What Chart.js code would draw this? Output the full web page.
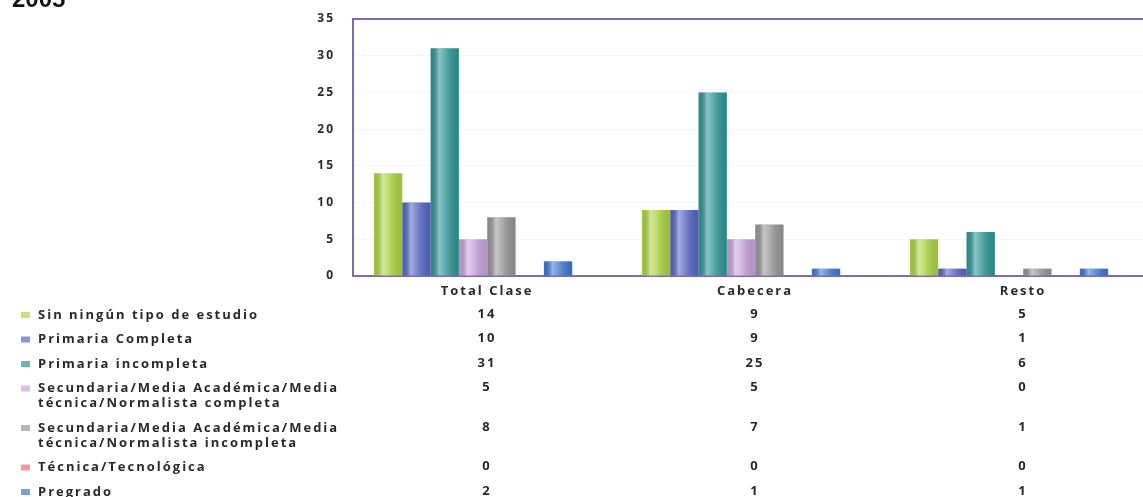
<!DOCTYPE html>
<html>
<head>
<meta charset="utf-8">
<script src="https://cdn.jsdelivr.net/npm/chart.js@4/dist/chart.umd.min.js"></script>
<style>
  html, body { margin: 0; padding: 0; background: #fff; overflow: hidden; }
  #wrap { position: relative; width: 1143px; height: 497px; }
</style>
</head>
<body>
<div id="wrap"><canvas id="c" width="1143" height="497"></canvas></div>
<script>
// ---- data ----
const chartTitle = '2005';
const categories = ['Total Clase', 'Cabecera', 'Resto'];
const seriesNames = [
  ['Sin ningún tipo de estudio'],
  ['Primaria Completa'],
  ['Primaria incompleta'],
  ['Secundaria/Media Académica/Media', 'técnica/Normalista completa'],
  ['Secundaria/Media Académica/Media', 'técnica/Normalista incompleta'],
  ['Técnica/Tecnológica'],
  ['Pregrado']
];
const sinEstudio           = [14, 9, 5];
const primariaCompleta     = [10, 9, 1];
const primariaIncompleta   = [31, 25, 6];
const secundariaCompleta   = [5, 5, 0];
const secundariaIncompleta = [8, 7, 1];
const tecnica              = [0, 0, 0];
const pregrado             = [2, 1, 1];
const yTickValues = [0, 5, 10, 15, 20, 25, 30, 35];

// ---- styling ----
const seriesValues = [sinEstudio, primariaCompleta, primariaIncompleta,
  secundariaCompleta, secundariaIncompleta, tecnica, pregrado];
const seriesColors = ['#aed443', '#5566c4', '#2f9696', '#c9a3df', '#979797', '#f26a6a', '#3f78d2'];
const axisColor = '#7c6ab4';
const textColor = '#2a2a2a';
const FONT = '"Open Sans", "DejaVu Sans", sans-serif';
const LABEL_SHIFT = 13;      // column labels sit slightly right of each bar group
const LETTER = '2px';

// cylinder-like shading laid over each bar
const barShading = {
  id: 'barShading',
  afterDatasetsDraw(chart) {
    const ctx = chart.ctx;
    chart.data.datasets.forEach((ds, di) => {
      const meta = chart.getDatasetMeta(di);
      meta.data.forEach(el => {
        const p = el.getProps(['x', 'y', 'base', 'width'], true);
        const h = p.base - p.y;
        if (h <= 0) return;
        const x0 = p.x - p.width / 2, x1 = p.x + p.width / 2;
        const g = ctx.createLinearGradient(x0, 0, x1, 0);
        g.addColorStop(0, 'rgba(0,0,0,0.06)');
        g.addColorStop(0.3, 'rgba(255,255,255,0.45)');
        g.addColorStop(0.5, 'rgba(255,255,255,0.25)');
        g.addColorStop(1, 'rgba(0,0,0,0.10)');
        ctx.save();
        ctx.fillStyle = g;
        ctx.fillRect(x0, p.y, p.width, h);
        ctx.restore();
      });
    });
  }
};

// top frame line, title and the data table under the axis
const frameAndTable = {
  id: 'frameAndTable',
  beforeDraw(chart) {
    chart.ctx.letterSpacing = LETTER;
  },
  afterDraw(chart) {
    const ctx = chart.ctx;
    const area = chart.chartArea;
    const xs = chart.scales.x;

    ctx.save();
    ctx.strokeStyle = axisColor;
    ctx.lineWidth = 2;
    ctx.beginPath();
    ctx.moveTo(area.left - 1, area.top);
    ctx.lineTo(area.right, area.top);
    ctx.stroke();
    ctx.restore();

    // title
    ctx.save();
    ctx.letterSpacing = '0px';
    ctx.fillStyle = '#111';
    ctx.font = 'bold 24px "Liberation Sans", sans-serif';
    ctx.textBaseline = 'alphabetic';
    ctx.textAlign = 'left';
    ctx.fillText(chartTitle, 12, 7);
    ctx.restore();

    // table rows
    ctx.save();
    ctx.letterSpacing = LETTER;
    ctx.font = 'bold 13px ' + FONT;
    ctx.fillStyle = textColor;
    ctx.textBaseline = 'middle';
    let y = 315;
    seriesNames.forEach((lines, si) => {
      // marker
      ctx.save();
      ctx.globalAlpha = 0.7;
      ctx.fillStyle = seriesColors[si];
      ctx.fillRect(21, y - 3, 9, 6);
      ctx.restore();
      // label, clipped at the first value column edge
      ctx.save();
      ctx.beginPath();
      ctx.rect(0, y - 12, 356, lines.length * 15 + 12);
      ctx.clip();
      ctx.textAlign = 'left';
      lines.forEach((t, li) => ctx.fillText(t, 38, y + li * 15));
      ctx.restore();
      // values
      ctx.textAlign = 'center';
      seriesValues[si].forEach((v, ci) => {
        const cx = xs.getPixelForValue(ci) + LABEL_SHIFT + 1;
        ctx.fillText(String(v), cx, y - 1);
      });
      y += (lines.length - 1) * 15 + 24.5;
    });
    ctx.restore();
  }
};

const datasets = seriesValues.map((vals, i) => ({
  label: seriesNames[i].join(' '),
  data: vals.map((v, ci) => ({ x: ci, y: v })),
  backgroundColor: seriesColors[i],
  borderWidth: 0,
  categoryPercentage: 0.74,
  barPercentage: 1.0
}));

new Chart(document.getElementById('c'), {
  type: 'bar',
  data: { datasets },
  plugins: [barShading, frameAndTable],
  options: {
    responsive: false,
    animation: false,
    devicePixelRatio: 1,
    layout: { padding: { top: 19, left: 0, right: 0, bottom: 0 } },
    plugins: { legend: { display: false }, tooltip: { enabled: false }, title: { display: false } },
    scales: {
      x: {
        type: 'linear',
        offset: false,
        bounds: 'data',
        min: -0.448,
        max: 2.5,
        afterBuildTicks(scale) { scale.ticks = categories.map((_, i) => ({ value: i })); },
        afterFit(scale) { scale.height = 221; scale.paddingLeft = 0; scale.paddingRight = 0; },
        grid: { display: false, drawTicks: false, offset: false },
        border: { display: true, color: axisColor, width: 2 },
        ticks: {
          autoSkip: false,
          maxRotation: 0,
          padding: 7,
          labelOffset: LABEL_SHIFT + 1,
          color: textColor,
          font: { family: FONT, size: 13, weight: 'bold' },
          callback: v => categories[v] ?? ''
        }
      },
      y: {
        min: 0,
        max: 35,
        afterBuildTicks(scale) { scale.ticks = yTickValues.map(v => ({ value: v })); },
        afterFit(scale) { scale.width = 353; scale.paddingTop = 0; scale.paddingBottom = 0; },
        grid: { color: 'rgba(0,0,0,0.035)', drawTicks: false },
        border: { display: true, color: axisColor, width: 2 },
        ticks: {
          padding: 18,
          color: textColor,
          font: { family: FONT, size: 12, weight: 'bold' }
        }
      }
    }
  }
});
</script>
</body>
</html>
